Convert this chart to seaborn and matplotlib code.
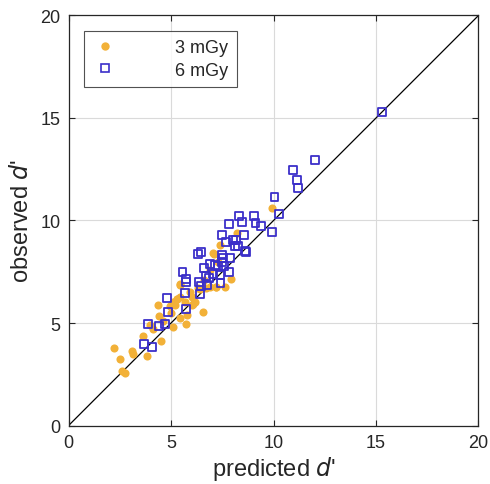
import matplotlib
matplotlib.use("Agg")
import matplotlib.pyplot as plt
import seaborn as sns
import pandas as pd
import numpy as np
from matplotlib.lines import Line2D

sns.set_theme(style="white")
plt.rcParams['font.family'] = ['Liberation Sans', 'DejaVu Sans']

# 3 mGy
pred_3 = [9.94, 8.23, 7.41, 7.05, 7.08, 7.94, 7.62, 7.21, 7.18, 6.56, 5.43, 5.46, 5.27, 5.29,
          5.46, 5.67, 6.07, 6.04, 6.16, 6.00, 5.10, 4.94, 5.20, 6.30, 6.40, 6.70, 6.90, 5.46,
          5.72, 5.10, 4.61, 4.42, 4.36, 4.49, 3.61, 3.84, 3.07, 3.15, 2.21, 2.51, 2.60, 2.73,
          7.30, 6.90, 6.60, 5.90, 3.95, 4.10, 5.00, 5.80]
obs_3 = [10.59, 9.39, 8.80, 8.41, 8.38, 7.15, 6.74, 6.74, 6.74, 5.52, 6.90, 6.85, 6.17, 6.17,
         6.25, 6.01, 5.93, 6.25, 6.01, 5.88, 6.01, 5.85, 5.90, 6.70, 6.65, 6.70, 6.75, 5.23,
         4.95, 4.79, 5.11, 5.36, 5.88, 4.14, 4.38, 3.41, 3.63, 3.47, 3.77, 3.24, 2.67, 2.56,
         8.00, 7.60, 7.10, 6.50, 4.90, 4.70, 5.50, 5.40]

# 6 mGy
pred_6 = [15.29, 12.04, 10.97, 11.13, 11.20, 10.05, 10.26, 9.94, 9.03, 9.12, 9.38, 8.31, 8.48,
          7.82, 8.54, 7.48, 7.70, 8.02, 8.18, 8.26, 8.10, 8.59, 8.64, 6.32, 6.48, 7.48, 7.53,
          7.50, 7.86, 6.59, 6.92, 7.13, 7.29, 7.60, 7.82, 5.56, 5.72, 5.72, 6.72, 6.85, 7.05,
          7.37, 7.41, 6.37, 6.48, 6.43, 6.75, 5.67, 5.72, 4.81, 4.87, 3.89, 4.40, 4.71, 3.67, 4.05]
obs_6 = [15.28, 12.97, 12.48, 11.99, 11.59, 11.15, 10.30, 9.42, 10.20, 9.88, 9.72, 10.20, 9.94,
         9.85, 9.31, 9.29, 8.94, 9.06, 9.06, 8.77, 8.77, 8.53, 8.45, 8.37, 8.45, 8.32, 8.16,
         7.99, 8.17, 7.67, 7.86, 7.83, 7.80, 7.80, 7.50, 7.50, 7.15, 6.98, 7.28, 7.18, 7.39,
         7.34, 6.95, 7.01, 6.82, 6.41, 6.85, 6.46, 5.68, 6.20, 5.55, 4.97, 4.87, 4.94, 3.96, 3.83]

ticks = [0, 5, 10, 15, 20]
orange = "#F2B138"
blue = "#3B2FC9"

df3 = pd.DataFrame({"predicted": pred_3, "observed": obs_3})
df6 = pd.DataFrame({"predicted": pred_6, "observed": obs_6})

fig = plt.figure(figsize=(4.9, 4.85), dpi=100)
ax = fig.add_axes([0.14, 0.1206, 0.8365, 0.8454])

ax.plot([0, 20], [0, 20], color="black", lw=0.9, zorder=1)
sns.scatterplot(data=df3, x="predicted", y="observed", ax=ax, color=orange,
                marker="o", s=34, linewidth=0, zorder=2)
sns.scatterplot(data=df6, x="predicted", y="observed", ax=ax, marker="s", s=32,
                facecolors="none", edgecolors=blue, linewidths=1.3, zorder=3)

ax.set_xlim(0, 20)
ax.set_ylim(0, 20)
ax.set_xticks(ticks)
ax.set_yticks(ticks)
ax.grid(True, color="#DADADA", lw=0.8)
ax.set_axisbelow(True)
for s in ax.spines.values():
    s.set_color("#262626")
    s.set_linewidth(0.9)
ax.tick_params(direction="in", length=4, width=0.8, labelsize=13, colors="#262626",
               top=True, right=True, left=True, bottom=True, pad=6)
ax.set_xlabel("predicted $d$'", fontsize=17, labelpad=2)
ax.set_ylabel("observed $d$'", fontsize=17, labelpad=5)

handles = [Line2D([], [], marker="o", color=orange, linestyle="none", markersize=6,
                  markeredgewidth=0),
           Line2D([], [], marker="s", markerfacecolor="none", markeredgecolor=blue,
                  linestyle="none", markersize=5.5, markeredgewidth=1.2)]
leg = ax.legend(handles, ["3 mGy", "6 mGy"], loc="upper left", fontsize=13,
                frameon=True, fancybox=False, edgecolor="#262626",
                handletextpad=3.2, borderpad=0.45, labelspacing=0.3,
                bbox_to_anchor=(0.025, 0.975), handlelength=1.4, borderaxespad=0.3)
leg.get_frame().set_linewidth(0.8)

fig.savefig("out.png", dpi=100)
